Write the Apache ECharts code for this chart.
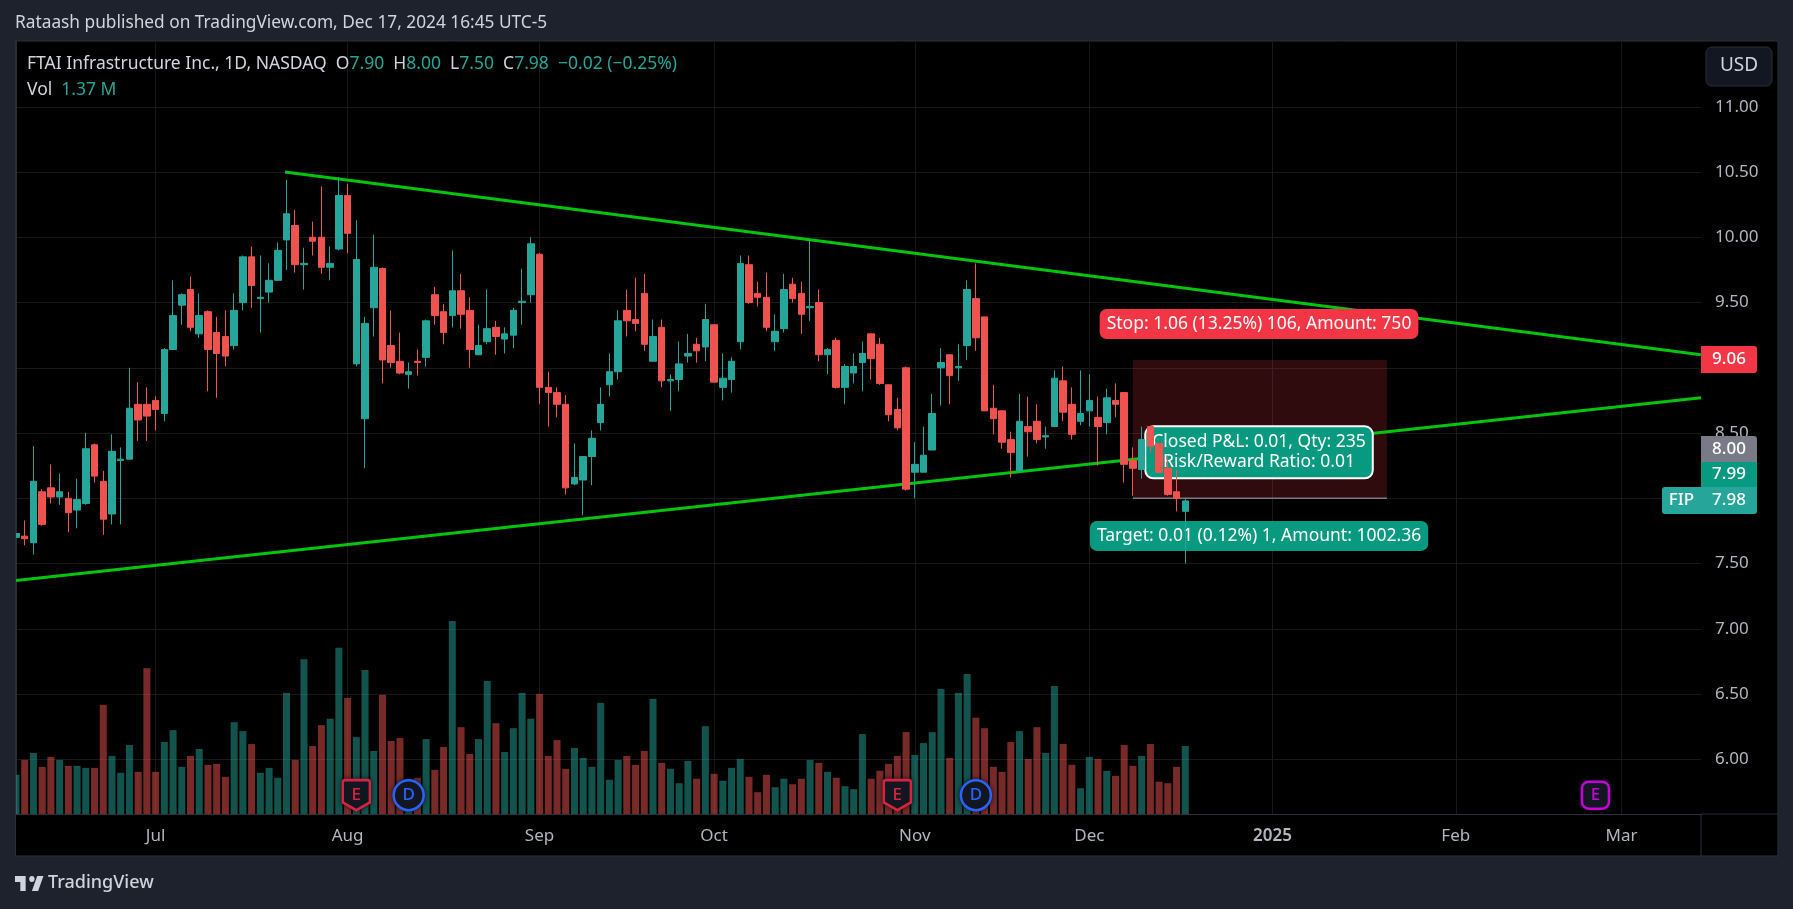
<!DOCTYPE html>
<html>
<head>
<meta charset="utf-8">
<title>FTAI Infrastructure Inc.</title>
<script src="https://cdn.jsdelivr.net/npm/echarts@6/dist/echarts.min.js"></script>
<style>
  html, body { margin: 0; padding: 0; background: #1e222d; overflow: hidden; }
  #chart { width: 1793px; height: 909px; }
</style>
</head>
<body>
<div id="chart"></div>
<script>
// one row per trading day, index 0 is the half hidden bar at the left edge
var opens = [7.70,7.71,7.66,8.05,8.08,8.01,8.00,7.91,7.96,8.41,8.13,7.88,8.29,8.30,8.72,8.72,8.75,8.65,9.14,9.48,9.60,9.26,9.43,9.27,9.24,9.17,9.50,9.85,9.53,9.58,9.67,9.98,10.09,9.79,10.00,10.00,9.77,9.91,10.32,9.03,8.61,9.46,9.76,9.17,9.05,8.95,9.05,9.08,9.56,9.43,9.40,9.59,9.44,9.10,9.20,9.31,9.22,9.25,9.50,9.56,9.87,8.85,8.81,8.72,8.11,8.14,8.32,8.58,8.87,8.97,9.44,9.37,9.57,9.05,9.31,8.90,8.91,9.09,9.18,9.16,9.33,8.85,8.91,9.20,9.79,9.57,9.54,9.20,9.30,9.64,9.57,9.46,9.50,9.10,9.21,8.85,8.96,9.04,9.26,9.18,8.87,8.68,9.00,8.20,8.20,8.37,9.00,9.10,9.00,9.17,9.53,9.39,8.69,8.67,8.45,8.21,8.55,8.59,8.47,8.55,8.90,8.72,8.59,8.67,8.62,8.58,8.75,8.81,8.29,8.22,8.55,8.42,8.23,8.05,7.90];
var highs = [7.90,7.83,8.40,8.07,8.26,8.19,8.05,8.15,8.50,8.42,8.21,8.49,8.39,9.00,8.89,8.85,8.78,9.15,9.67,9.57,9.70,9.57,9.44,9.39,9.44,9.57,9.86,9.93,9.86,9.80,9.96,10.44,10.21,9.92,10.12,10.39,9.93,10.46,10.41,10.13,9.39,10.02,9.77,9.44,9.27,9.04,9.14,9.37,9.62,9.49,9.90,9.72,9.54,9.33,9.60,9.36,9.31,9.46,9.76,10.00,9.88,8.97,8.85,8.79,8.42,8.32,8.52,8.85,9.11,9.44,9.60,9.69,9.72,9.37,9.37,8.95,9.20,9.26,9.23,9.49,9.33,9.11,9.08,9.86,9.86,9.66,9.73,9.41,9.72,9.69,9.66,9.97,9.60,9.15,9.23,9.03,9.11,9.20,9.26,9.23,8.87,8.77,9.01,8.43,8.55,8.80,9.15,9.10,9.18,9.67,9.80,9.39,8.87,8.67,8.51,8.80,8.78,8.72,8.55,8.98,9.01,8.85,8.98,8.95,8.78,8.84,8.88,8.81,8.39,8.55,8.55,8.42,8.32,8.22,8.00];
var lows = [7.53,7.64,7.57,7.79,7.96,7.95,7.74,7.77,7.95,8.12,7.72,7.80,7.80,8.30,8.44,8.44,8.52,8.59,9.14,9.33,9.28,9.23,8.82,8.77,9.01,9.14,9.44,9.46,9.27,9.50,9.67,9.75,9.73,9.60,9.86,9.72,9.67,9.90,9.88,9.01,8.23,9.24,8.88,9.00,8.95,8.84,8.94,9.01,9.33,9.18,9.31,9.30,9.00,9.10,9.18,9.10,9.11,9.15,9.33,9.50,8.72,8.55,8.62,8.03,8.10,7.87,8.10,8.52,8.78,8.91,9.24,9.28,9.13,9.05,8.85,8.67,8.82,9.04,9.04,9.05,8.89,8.75,8.81,9.14,9.49,9.47,9.28,9.13,9.27,9.50,9.26,9.36,9.05,8.95,8.84,8.72,8.88,8.82,8.91,8.87,8.59,8.52,8.06,8.00,8.20,8.37,8.71,8.72,8.90,9.06,9.13,8.67,8.49,8.38,8.16,8.21,8.32,8.42,8.38,8.55,8.59,8.45,8.56,8.55,8.25,8.49,8.62,8.12,8.02,8.15,8.35,8.20,8.02,7.90,7.50];
var closes = [7.73,7.69,8.13,7.80,8.01,8.05,7.89,7.99,8.38,8.17,7.84,8.36,8.30,8.69,8.60,8.63,8.68,9.14,9.40,9.56,9.31,9.40,9.14,9.11,9.09,9.44,9.85,9.63,9.54,9.67,9.90,10.18,9.79,9.80,9.97,9.77,9.80,10.32,10.03,9.83,9.34,9.77,9.06,9.04,8.96,8.97,9.04,9.36,9.40,9.27,9.59,9.41,9.14,9.17,9.30,9.24,9.26,9.44,9.51,9.95,8.85,8.81,8.72,8.08,8.16,8.32,8.46,8.72,8.97,9.36,9.36,9.34,9.18,9.24,8.90,8.91,9.03,9.11,9.13,9.37,8.89,8.92,9.05,9.80,9.50,9.54,9.31,9.28,9.60,9.53,9.41,9.47,9.10,9.14,8.85,9.01,9.01,9.11,9.07,8.88,8.64,8.54,8.07,8.26,8.33,8.65,9.04,8.94,9.01,9.60,9.23,8.67,8.61,8.43,8.35,8.59,8.51,8.45,8.48,8.92,8.66,8.49,8.65,8.75,8.55,8.77,8.72,8.26,8.23,8.45,8.40,8.20,8.03,8.00,7.98];
// volume in millions of shares
var volumes = [0.79,1.09,1.23,0.95,1.15,1.09,0.97,0.97,0.93,0.93,2.20,1.17,0.83,1.39,0.85,2.94,0.85,1.45,1.69,0.95,1.17,1.31,0.99,1.01,0.75,1.85,1.67,1.41,0.83,0.93,0.73,2.44,1.09,3.12,1.37,1.79,1.92,3.35,2.34,1.55,2.90,1.27,2.40,1.47,1.53,0.55,0.73,1.51,0.89,1.35,3.89,1.75,1.21,1.51,2.68,1.83,1.25,1.73,2.44,1.92,2.42,1.17,1.49,0.91,1.33,1.13,0.95,2.24,0.69,1.09,1.17,0.99,1.27,2.32,1.03,0.91,0.62,1.07,0.71,1.77,0.81,0.67,0.93,1.11,0.75,0.44,0.79,0.54,0.71,0.60,0.71,1.09,1.03,0.85,0.73,0.56,0.50,1.61,0.71,0.87,1.01,1.17,1.65,1.19,1.43,1.65,2.52,1.13,2.44,2.82,1.94,1.73,0.95,0.85,1.45,1.67,1.11,1.75,1.23,2.58,1.41,0.99,0.52,1.15,1.11,0.87,0.77,1.39,0.97,1.17,1.41,0.65,0.62,0.95,1.37];

var priceTicks = [6, 6.5, 7, 7.5, 8, 8.5, 9, 9.5, 10, 10.5, 11];
var monthTickIndexes = [16, 38, 60, 80, 103, 123, 144, 165, 184];
var monthTickLabels = ['Jul', 'Aug', 'Sep', 'Oct', 'Nov', 'Dec', '2025', 'Feb', 'Mar'];

// drawn lines: [bar index, price]
var upperTrend = [[30.83, 10.5], [193.1, 9.1]];
var lowerTrend = [[0, 7.37], [193.1, 8.77]];
var stopZoneStart = 128;
var stopZoneEnd = 157.1;
var stopPrice = 9.06;
var entryPrice = 8.0;

var tradeLabelTexts = [
  'Stop: 1.06 (13.25%) 106, Amount: 750',
  'Closed P&L: 0.01, Qty: 235\nRisk/Reward Ratio: 0.01',
  'Target: 0.01 (0.12%) 1, Amount: 1002.36'
];
var tradeLabelIndexes = [142.45, 142.45, 142.45];
var tradeLabelPrices = [9.335, 8.352, 7.712];

var earningsIndexes = [39, 101];
var dividendIndexes = [45, 110];
var nextEarningsIndex = 181;

var FONT = '"Noto Sans", sans-serif';
var UP = '#26a69a';
var DOWN = '#ef5350';
var GRID = '#17181b';
var BORDER = '#2a2e39';
var TEXT = '#d1d4dc';

var chart = echarts.init(document.getElementById('chart'));

var candleData = [];
var volumeData = [];
for (var i = 0; i < opens.length; i++) {
  candleData.push([i, opens[i], closes[i], lows[i], highs[i]]);
  volumeData.push({
    value: [i, volumes[i]],
    itemStyle: { color: closes[i] >= opens[i] ? 'rgba(38,166,154,0.5)' : 'rgba(239,83,80,0.5)' }
  });
}

var tradeLabelColors = ['#f23645', '#089981', '#089981'];
var tradeLabelData = [];
for (var j = 0; j < tradeLabelTexts.length; j++) {
  tradeLabelData.push({
    name: tradeLabelTexts[j],
    value: [tradeLabelIndexes[j], tradeLabelPrices[j]],
    label: {
      backgroundColor: tradeLabelColors[j],
      borderColor: j === 1 ? '#ffffff' : 'transparent',
      borderWidth: j === 1 ? 2 : 0,
      padding: j === 1 ? [5, 6] : [5, 7]
    }
  });
}

function pointsAt(indexes) {
  return indexes.map(function(idx) { return [idx, 0.38]; });
}

function badge(name, points, symbol, size, color, letter) {
  return {
    name: name,
    type: 'scatter',
    xAxisIndex: 0,
    yAxisIndex: 1,
    z: 5,
    silent: true,
    symbol: symbol,
    symbolSize: size,
    itemStyle: { opacity: 1, color: '#131722', borderColor: color, borderWidth: 2.5, shadowColor: '#131722', shadowBlur: 4 },
    label: {
      show: true,
      position: 'inside',
      formatter: letter,
      color: color,
      fontFamily: FONT,
      fontWeight: 500,
      fontSize: 17
    },
    data: points
  };
}

// price scale tags sit outside the plot and get pushed apart, so they are placed by hand
function tag(x, y, w, h, text, color, radius) {
  return {
    type: 'group',
    z: 30,
    children: [
      { type: 'rect', z: 30, shape: { x: x, y: y, width: w, height: h, r: radius }, style: { fill: color } },
      {
        type: 'text', z: 31, x: x + w / 2, y: y + h / 2,
        style: { text: text, fill: '#ffffff', font: '500 17px ' + FONT, align: 'center', verticalAlign: 'middle' }
      }
    ]
  };
}

chart.setOption({
  animation: false,
  backgroundColor: '#1e222d',
  grid: { left: 16, top: 41, width: 1685, height: 773 },
  xAxis: {
    type: 'value',
    min: 0,
    max: 193.1,
    axisLine: { show: true, lineStyle: { color: BORDER } },
    axisTick: { show: false, customValues: monthTickIndexes },
    splitLine: { show: true, lineStyle: { color: GRID } },
    axisLabel: {
      customValues: monthTickIndexes,
      margin: 14,
      color: '#b2b5be',
      fontFamily: FONT,
      fontSize: 17,
      formatter: function(value) {
        var label = monthTickLabels[monthTickIndexes.indexOf(value)];
        return label === '2025' ? '{year|2025}' : label;
      },
      rich: { year: { color: '#b2b5be', fontFamily: FONT, fontSize: 17, fontWeight: 600 } }
    }
  },
  yAxis: [
    {
      type: 'value',
      position: 'right',
      min: 5.581,
      max: 11.504,
      axisLine: { show: true, lineStyle: { color: BORDER } },
      axisTick: { show: false, customValues: priceTicks },
      splitLine: { show: true, lineStyle: { color: GRID } },
      axisLabel: {
        customValues: priceTicks,
        margin: 14,
        padding: [2, 0, 0, 0],
        color: '#b2b5be',
        fontFamily: FONT,
        fontSize: 17,
        formatter: function(value) { return value.toFixed(2); }
      }
    },
    { type: 'value', show: false, min: 0, max: 15.58 }
  ],
  series: [
    {
      name: 'Volume',
      type: 'bar',
      yAxisIndex: 1,
      z: 1,
      clip: true,
      barWidth: 7,
      data: volumeData
    },
    {
      name: 'Upper trend',
      type: 'line',
      z: 1,
      showSymbol: false,
      lineStyle: { color: '#04c40e', width: 3 },
      markArea: {
        silent: true,
        itemStyle: { color: 'rgba(242,54,69,0.2)' },
        data: [[{ coord: [stopZoneStart, stopPrice] }, { coord: [stopZoneEnd, entryPrice] }]]
      },
      data: upperTrend
    },
    {
      name: 'Lower trend',
      type: 'line',
      z: 1,
      showSymbol: false,
      lineStyle: { color: '#04c40e', width: 3 },
      data: lowerTrend
    },
    {
      name: 'Entry',
      type: 'line',
      z: 1,
      showSymbol: false,
      lineStyle: { color: '#787b86', width: 1.5 },
      data: [[stopZoneStart, entryPrice], [stopZoneEnd, entryPrice]]
    },
    {
      name: 'Trade labels',
      type: 'scatter',
      z: 2,
      silent: true,
      symbolSize: 1,
      itemStyle: { opacity: 1, color: 'transparent' },
      label: {
        show: true,
        position: 'inside',
        formatter: '{b}',
        color: '#ffffff',
        fontFamily: FONT,
        fontSize: 17.5,
        lineHeight: 20,
        align: 'center',
        borderRadius: 7
      },
      data: tradeLabelData
    },
    {
      name: 'FIP',
      type: 'candlestick',
      z: 3,
      clip: true,
      barWidth: 7,
      itemStyle: { color: UP, color0: DOWN, borderColor: UP, borderColor0: DOWN, borderWidth: 1 },
      data: candleData
    },
    badge('Earnings', pointsAt(earningsIndexes), 'path://M2 0H22Q24 0 24 2V20L12 27L0 20V2Q0 0 2 0Z', [27, 30], '#d7243c', 'E'),
    badge('Dividends', pointsAt(dividendIndexes), 'circle', 30, '#2962ff', 'D'),
    badge('Next earnings', pointsAt([nextEarningsIndex]), 'roundRect', 27, '#c800dc', 'E')
  ],
  graphic: [
    { type: 'rect', z: -20, shape: { x: 15, y: 41, width: 1763, height: 815 }, style: { fill: '#000000', stroke: BORDER, lineWidth: 1 } },
    // the first bar is cut off by the pane edge
    { type: 'rect', z: 10, shape: { x: 0, y: 41, width: 15, height: 815 }, style: { fill: '#1e222d' } },
    { type: 'line', z: 10, shape: { x1: 15.5, y1: 41, x2: 15.5, y2: 856 }, style: { stroke: BORDER } },
    { type: 'line', z: 10, shape: { x1: 1701, y1: 814, x2: 1701, y2: 856 }, style: { stroke: BORDER } },
    { type: 'line', z: 10, shape: { x1: 1701, y1: 814, x2: 1778, y2: 814 }, style: { stroke: BORDER } },
    {
      type: 'text', z: 30, x: 15, y: 23,
      style: { text: 'Rataash published on TradingView.com, Dec 17, 2024 16:45 UTC-5', fill: TEXT, font: '17.3px ' + FONT, verticalAlign: 'middle' }
    },
    {
      type: 'text', z: 30, x: 27, y: 64,
      style: {
        text: '{w|FTAI Infrastructure Inc., 1D, NASDAQ  O}{g|7.90}{w|  H}{g|8.00}{w|  L}{g|7.50}{w|  C}{g|7.98}{g|  \u22120.02 (\u22120.25%)}',
        verticalAlign: 'middle',
        rich: {
          w: { fill: TEXT, font: '17.5px ' + FONT },
          g: { fill: UP, font: '17.5px ' + FONT }
        }
      }
    },
    {
      type: 'text', z: 30, x: 27, y: 90,
      style: {
        text: '{w|Vol}{g|  1.37 M}',
        verticalAlign: 'middle',
        rich: {
          w: { fill: TEXT, font: '17.5px ' + FONT },
          g: { fill: UP, font: '17.5px ' + FONT }
        }
      }
    },
    { type: 'rect', z: 30, shape: { x: 1706, y: 47, width: 66, height: 39, r: 6 }, style: { fill: '#131722', stroke: BORDER } },
    {
      type: 'text', z: 31, x: 1739, y: 66,
      style: { text: 'USD', fill: TEXT, font: '19px ' + FONT, align: 'center', verticalAlign: 'middle' }
    },
    tag(1701, 346, 56, 27, '9.06', '#f23645', [0, 3, 3, 0]),
    tag(1701, 436, 56, 26, '8.00', '#787b86', [0, 3, 0, 0]),
    tag(1701, 462, 56, 25, '7.99', '#089981', 0),
    tag(1701, 487, 56, 27, '7.98', UP, [0, 0, 3, 0]),
    tag(1662, 487, 39, 27, 'FIP', UP, [3, 0, 0, 3]),
    {
      // TradingView mark
      type: 'group', z: 30, x: 13.2, y: 870, scaleX: 0.89, scaleY: 1,
      children: [
        { type: 'polygon', shape: { points: [[2, 6], [14, 6], [14, 21], [8, 21], [8, 12], [2, 12]] }, style: { fill: TEXT } },
        { type: 'polygon', shape: { points: [[21, 21], [27, 6], [34, 6], [28, 21]] }, style: { fill: TEXT } },
        { type: 'circle', shape: { cx: 21, cy: 9, r: 3 }, style: { fill: TEXT } }
      ]
    },
    {
      type: 'text', z: 30, x: 48, y: 883,
      style: { text: 'TradingView', fill: TEXT, font: '500 18px ' + FONT, verticalAlign: 'middle' }
    }
  ]
});
</script>
</body>
</html>
